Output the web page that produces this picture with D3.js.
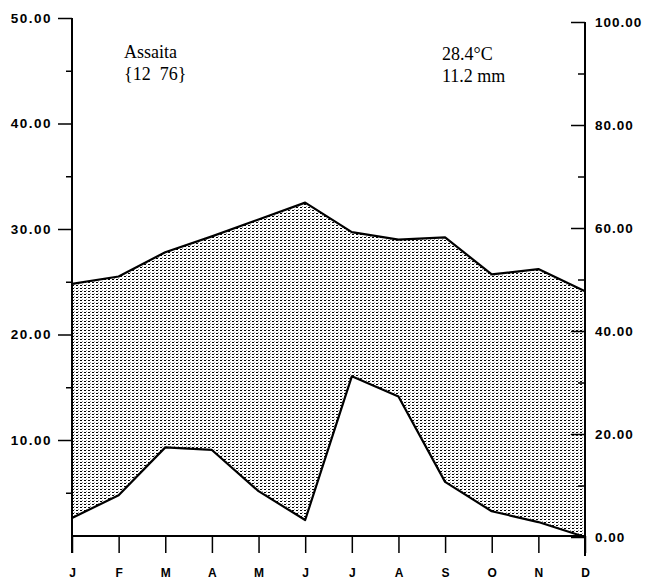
<!DOCTYPE html>
<html>

<head>
    <meta charset="utf-8">
    <style>
        body { margin: 0; background: #fff; }
        .axis text { font-family: "Liberation Sans", Arial, sans-serif; font-weight: bold; font-size: 13.5px; letter-spacing: 1.5px; fill: #000; }
        .axis line { stroke: #000; stroke-width: 1.5; }
        .label { font-family: "Liberation Serif", "Times New Roman", serif; font-size: 18px; fill: #000; }
    </style>
</head>

<body>
    <svg id="chart" width="647" height="583">
        <defs>
            <pattern id="stipple" width="4" height="3" patternUnits="userSpaceOnUse">
                <rect width="4" height="3" fill="#fff"></rect>
                <rect x="0" y="0" width="2" height="1" fill="#000"></rect>
                <rect x="2" y="2" width="1" height="1" fill="#999"></rect>
            </pattern>
        </defs>
        <g id="area"></g>
        <g id="lines"></g>
        <g id="yaxis"></g>
        <g id="yaxis-minor"></g>
        <g id="y2axis"></g>
        <g id="y2axis-minor"></g>
        <g id="xaxis"></g>
        <g id="labels"></g>
    </svg>
</body>
<script src="https://d3js.org/d3.v7.min.js"></script>
<script>
    // monthly means
    let months = ["J", "F", "M", "A", "M", "J", "J", "A", "S", "O", "N", "D"]
    let temperature = [24.8, 25.5, 27.8, 29.3, 30.9, 32.5, 29.7, 29.0, 29.2, 25.7, 26.2, 24.1]
    let precipitation = [3.7, 8.1, 17.4, 16.9, 8.9, 3.3, 31.2, 27.3, 10.7, 5.0, 2.9, 0.0]
    let tempTicks = [10, 20, 30, 40, 50]
    let tempMinorTicks = [5, 15, 25, 35, 45]
    let precTicks = [0, 20, 40, 60, 80, 100]
    let precMinorTicks = [10, 30, 50, 70, 90]
    let station = "Assaita"
    let stationInfo = "{12  76}"
    let meanTemp = "28.4°C"
    let meanPrec = "11.2 mm"

    let svg = d3.select("#chart")

    let x = d3.scalePoint()
        .domain(d3.range(months.length))
        .range([72, 585])
    let yTemp = d3.scaleLinear()
        .domain([0, 50])
        .range([545.5, 18])
    let yPrec = d3.scaleLinear()
        .domain([0, 100])
        .range([537, 22])

    let data = months.map((m, i) => ({ i: i, t: temperature[i], p: precipitation[i] }))

    // arid period: between temperature and precipitation curves
    let area = d3.area()
        .x(d => x(d.i))
        .y0(d => yPrec(d.p))
        .y1(d => yTemp(d.t))
    d3.select("#area").append("path")
        .datum(data)
        .attr("d", area)
        .attr("fill", "url(#stipple)")

    let tLine = d3.line().x(d => x(d.i)).y(d => yTemp(d.t))
    let pLine = d3.line().x(d => x(d.i)).y(d => yPrec(d.p))
    d3.select("#lines").selectAll("path")
        .data([tLine(data), pLine(data)])
        .join("path")
        .attr("d", d => d)
        .attr("fill", "none")
        .attr("stroke", "#000")
        .attr("stroke-width", 2.2)
        .attr("stroke-linejoin", "round")

    // left axis (temperature)
    let yAxis = d3.axisLeft(yTemp)
        .tickValues(tempTicks)
        .tickSize(14)
        .tickPadding(6)
        .tickFormat(d3.format(".2f"))
    d3.select("#yaxis")
        .attr("class", "axis")
        .attr("transform", "translate(72,0)")
        .call(yAxis)
        .call(g => g.select(".domain").remove())
    d3.select("#yaxis-minor")
        .attr("class", "axis")
        .attr("transform", "translate(72,0)")
        .call(d3.axisLeft(yTemp).tickValues(tempMinorTicks).tickSize(6).tickFormat(""))
        .call(g => g.select(".domain").remove())

    // right axis (precipitation), ticks point inwards
    let y2Axis = d3.axisRight(yPrec)
        .tickValues(precTicks)
        .tickSize(-14)
        .tickPadding(10)
        .tickFormat(d3.format(".2f"))
    d3.select("#y2axis")
        .attr("class", "axis")
        .attr("transform", "translate(585,0)")
        .call(y2Axis)
        .call(g => g.select(".domain").remove())
        .call(g => g.selectAll("text").style("letter-spacing", "1px"))
    d3.select("#y2axis-minor")
        .attr("class", "axis")
        .attr("transform", "translate(585,0)")
        .call(d3.axisRight(yPrec).tickValues(precMinorTicks).tickSize(-7).tickFormat(""))
        .call(g => g.select(".domain").remove())

    // month axis, ticks hang below
    let xAxis = d3.axisBottom(x)
        .tickSize(17)
        .tickPadding(15)
        .tickFormat(i => months[i])
    d3.select("#xaxis")
        .attr("class", "axis")
        .attr("transform", "translate(0,536)")
        .call(xAxis)
        .call(g => g.select(".domain").remove())
        .call(g => g.selectAll("text").style("font-size", "12px").style("letter-spacing", "0px"))

    // frame lines
    svg.append("line").attr("x1", 72).attr("x2", 72).attr("y1", 18).attr("y2", 553)
        .attr("stroke", "#000").attr("stroke-width", 2)
    svg.append("line").attr("x1", 585).attr("x2", 585).attr("y1", 22).attr("y2", 556)
        .attr("stroke", "#000").attr("stroke-width", 2)
    svg.append("line").attr("x1", 72).attr("x2", 585).attr("y1", 536).attr("y2", 536)
        .attr("stroke", "#000").attr("stroke-width", 1.8)

    let labels = d3.select("#labels")
    labels.append("text").attr("class", "label").attr("x", 124).attr("y", 58).text(station)
    labels.append("text").attr("class", "label").attr("x", 124).attr("y", 80)
        .attr("xml:space", "preserve").style("white-space", "pre").text(stationInfo)
    labels.append("text").attr("class", "label").attr("x", 442).attr("y", 60).text(meanTemp)
    labels.append("text").attr("class", "label").attr("x", 442).attr("y", 82).text(meanPrec)
</script>

</html>
